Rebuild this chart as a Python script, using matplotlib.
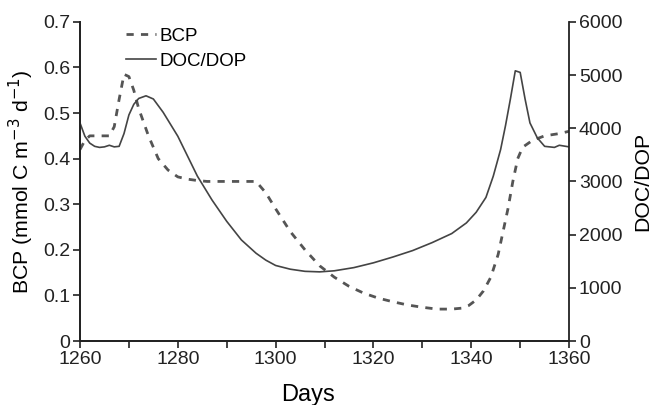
import numpy as np
import matplotlib
matplotlib.use("Agg")
import matplotlib.pyplot as plt
from matplotlib.ticker import MultipleLocator

plt.rcParams['font.family'] = ['Liberation Sans', 'DejaVu Sans']
plt.rcParams['font.size'] = 14

# BCP (left axis)
bcp_days = [1260, 1261, 1262, 1264, 1266, 1267, 1268, 1269, 1270, 1271, 1272, 1274, 1276,
            1278, 1280, 1282, 1284, 1286, 1290, 1294, 1296, 1298, 1300, 1303, 1306, 1309,
            1312, 1315, 1318, 1321, 1324, 1327, 1330, 1333, 1336, 1338, 1339.5, 1341,
            1342.5, 1344, 1345.5, 1346.5, 1347.5, 1348.5, 1349.5, 1350.5, 1352.5, 1355,
            1358, 1360]
bcp_vals = [0.42, 0.44, 0.45, 0.45, 0.45, 0.47, 0.53, 0.585, 0.58, 0.55, 0.51, 0.45, 0.40,
            0.375, 0.36, 0.355, 0.352, 0.35, 0.35, 0.35, 0.35, 0.325, 0.29, 0.24, 0.20, 0.165,
            0.14, 0.12, 0.105, 0.094, 0.086, 0.079, 0.074, 0.07, 0.07, 0.072, 0.078, 0.09,
            0.11, 0.14, 0.19, 0.24, 0.29, 0.35, 0.40, 0.425, 0.44, 0.45, 0.455, 0.46]

# DOC/DOP (right axis)
doc_days = [1260, 1261, 1262, 1263, 1264, 1265, 1266, 1267, 1268, 1269, 1270, 1271, 1272,
            1273.5, 1275, 1277, 1280, 1284, 1287, 1290, 1293, 1296, 1298, 1300, 1303,
            1306, 1309, 1312, 1316, 1320, 1324, 1328, 1332, 1336, 1339, 1341, 1343,
            1344.5, 1346, 1347, 1348, 1349, 1350, 1351, 1352, 1353.5, 1355, 1357,
            1358, 1360]
doc_vals = [4100, 3850, 3720, 3660, 3640, 3650, 3680, 3650, 3660, 3900, 4250, 4450, 4560,
            4610, 4550, 4300, 3850, 3100, 2650, 2250, 1900, 1650, 1520, 1420, 1350,
            1310, 1300, 1320, 1380, 1470, 1580, 1700, 1850, 2020, 2220, 2420, 2700,
            3100, 3600, 4050, 4550, 5080, 5050, 4550, 4100, 3820, 3660, 3640,
            3680, 3650]

fig = plt.figure(figsize=(6.53, 4.05), dpi=100)
ax = fig.add_axes([0.1225, 0.158, 0.749, 0.788])
ax2 = ax.twinx()

l1, = ax.plot(bcp_days, bcp_vals, color='#555555', lw=2.0, ls=(0, (2.6, 2.6)), label='BCP')
l2, = ax2.plot(doc_days, doc_vals, color='#444444', lw=1.2, label='DOC/DOP')

ax.set_xlim(1260, 1360)
ax.set_ylim(0, 0.7)
ax2.set_ylim(0, 6000)
ax.xaxis.set_major_locator(MultipleLocator(20))
ax.xaxis.set_minor_locator(MultipleLocator(10))
ax.yaxis.set_major_locator(MultipleLocator(0.1))
ax2.yaxis.set_major_locator(MultipleLocator(1000))
ax.yaxis.set_major_formatter(plt.FuncFormatter(lambda v, p: '0' if v == 0 else f'{v:.1f}'))

for a in (ax, ax2):
    a.spines['top'].set_visible(False)
    for s in a.spines.values():
        s.set_linewidth(1.3)
        s.set_color('#222222')
    a.tick_params(which='both', direction='out', length=5, width=1.2, color='#222222',
                  labelcolor='#222222', pad=2)
ax.spines['right'].set_visible(False)

ax.set_xlabel('Days', fontsize=17)
ax.xaxis.set_label_coords(0.466, -0.135)
ax.set_ylabel('BCP (mmol C m$^{-3}$ d$^{-1}$)', fontsize=15.3, labelpad=5)
ax2.set_ylabel('DOC/DOP', fontsize=15.3, labelpad=8)

ax.legend([l1, l2], ['BCP', 'DOC/DOP'], loc='upper left', bbox_to_anchor=(0.06, 1.035),
          frameon=False, handlelength=1.6, handletextpad=0.2, labelspacing=0.42,
          fontsize=13.5)

fig.savefig('out.png', dpi=100)
